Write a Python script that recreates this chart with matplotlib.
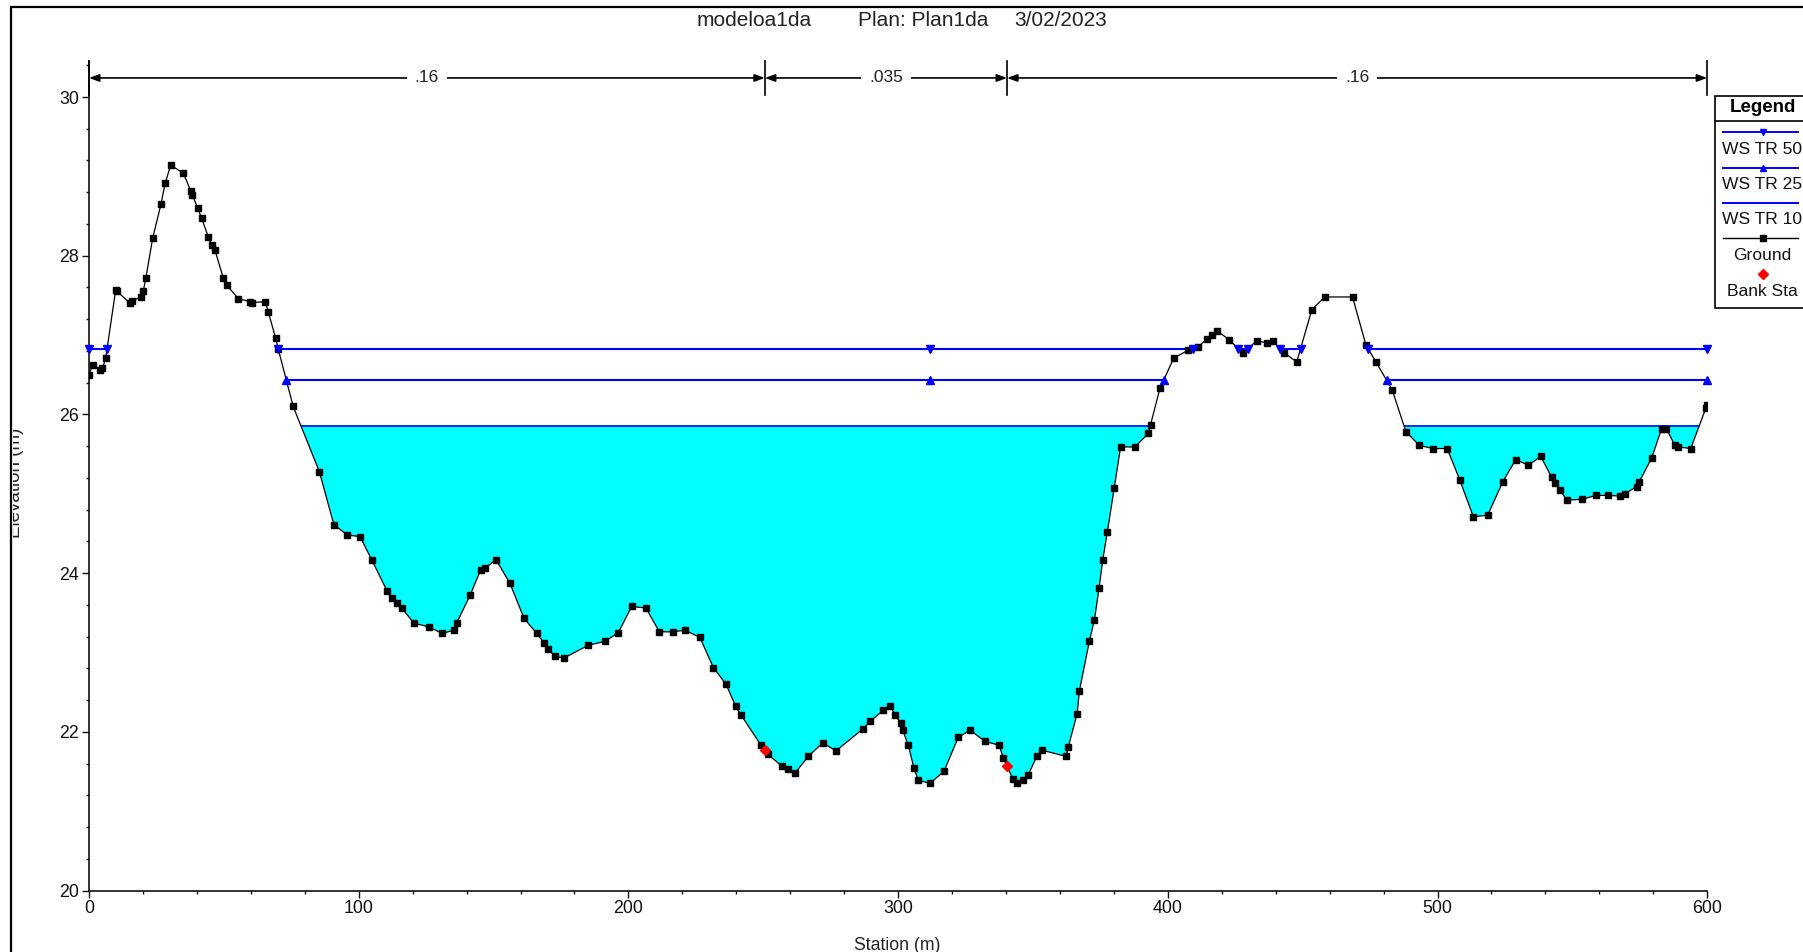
import numpy as np
import matplotlib
matplotlib.use("Agg")
import matplotlib.pyplot as plt
from matplotlib.lines import Line2D
from matplotlib.patches import Rectangle
from matplotlib.ticker import MultipleLocator
from matplotlib.transforms import Bbox

plt.rcParams['font.family'] = ['Liberation Sans', 'DejaVu Sans']

# ---- cross-section data -------------------------------------------------
station = [
    0.0, 1.3, 4.1, 5.0, 6.2, 9.9, 10.5, 15.2, 16.0, 19.3, 20.1, 21.1, 23.6,
    26.7, 28.2, 30.3, 35.0, 37.8, 38.3, 40.3, 41.8, 44.2, 45.5, 46.7, 49.8,
    51.0, 55.4, 59.7, 60.5, 65.3, 66.5, 69.2, 70.2, 75.7, 85.4, 90.8, 95.8,
    100.5, 104.8, 110.6, 112.2, 114.1, 115.9, 120.5, 126.2, 130.9, 135.3,
    136.3, 141.3, 145.2, 146.8, 150.9, 156.1, 161.3, 166.0, 168.7, 170.3,
    172.8, 176.1, 185.1, 191.3, 196.3, 201.2, 206.5, 211.5, 216.4, 221.0,
    226.5, 231.5, 236.2, 239.8, 241.8, 249.2, 251.6, 256.8, 259.3, 261.8,
    266.7, 272.0, 277.0, 287.1, 289.6, 294.5, 297.0, 298.9, 301.0, 301.7,
    303.8, 305.9, 307.5, 311.8, 317.0, 322.3, 326.7, 332.2, 337.5, 339.0,
    342.5, 344.2, 346.4, 348.3, 351.4, 353.2, 362.3, 363.1, 366.4, 367.2,
    370.9, 372.8, 374.5, 375.9, 377.6, 380.1, 382.5, 387.8, 392.8, 393.6,
    397.1, 402.2, 407.6, 411.3, 414.4, 416.3, 418.4, 422.8, 427.8, 433.0,
    436.7, 438.9, 443.1, 447.8, 453.4, 458.2, 468.5, 473.5, 477.2, 483.2,
    488.3, 493.3, 498.2, 503.6, 508.3, 513.3, 518.6, 524.2, 529.0, 533.7,
    538.3, 542.3, 543.6, 545.4, 547.9, 553.7, 558.8, 563.4, 567.7, 569.5,
    573.8, 574.8, 579.4, 583.1, 584.9, 588.0, 589.3, 593.9, 599.5, 600.0,
]
elevation = [
    26.50, 26.62, 26.56, 26.58, 26.71, 27.57, 27.55, 27.40, 27.43, 27.48,
    27.55, 27.72, 28.22, 28.65, 28.91, 29.14, 29.04, 28.81, 28.77, 28.60,
    28.47, 28.24, 28.13, 28.07, 27.72, 27.63, 27.46, 27.42, 27.41, 27.42,
    27.29, 26.96, 26.82, 26.10, 25.28, 24.61, 24.48, 24.46, 24.17, 23.77,
    23.68, 23.62, 23.56, 23.37, 23.32, 23.24, 23.28, 23.37, 23.72, 24.04,
    24.06, 24.17, 23.87, 23.43, 23.24, 23.12, 23.04, 22.95, 22.93, 23.09,
    23.14, 23.25, 23.58, 23.56, 23.26, 23.26, 23.28, 23.19, 22.81, 22.60,
    22.32, 22.21, 21.83, 21.72, 21.57, 21.53, 21.48, 21.69, 21.86, 21.76,
    22.04, 22.13, 22.27, 22.33, 22.21, 22.11, 22.02, 21.83, 21.54, 21.39,
    21.35, 21.50, 21.93, 22.02, 21.88, 21.83, 21.67, 21.41, 21.35, 21.39,
    21.46, 21.69, 21.77, 21.69, 21.81, 22.23, 22.51, 23.14, 23.41, 23.81,
    24.17, 24.52, 25.07, 25.59, 25.59, 25.76, 25.87, 26.33, 26.71, 26.81,
    26.85, 26.95, 27.00, 27.05, 26.94, 26.77, 26.93, 26.90, 26.92, 26.78,
    26.66, 27.32, 27.48, 27.48, 26.87, 26.66, 26.31, 25.78, 25.61, 25.57,
    25.57, 25.17, 24.71, 24.73, 25.15, 25.43, 25.36, 25.47, 25.21, 25.13,
    25.05, 24.92, 24.93, 24.98, 24.98, 24.97, 25.00, 25.09, 25.15, 25.45,
    25.82, 25.82, 25.61, 25.59, 25.57, 26.08, 26.12,
]

ws_names = ["WS TR 50", "WS TR 25", "WS TR 10"]
ws_elev = [26.83, 26.43, 25.86]
ws_markers = ["v", "^", None]
ws_mid_marker_sta = 312.0

bank_sta = [250.6, 340.4]

n_breaks = [0.0, 250.6, 340.4, 600.0]
n_values = [".16", ".035", ".16"]

title_parts = ["modeloa1da", "Plan: Plan1da", "3/02/2023"]

# ---- style ---------------------------------------------------------------
W, H = 1803, 952
BLUE = "#0000ff"
CYAN = "#00ffff"


def fig_xy(x_px, y_top_px):
    """Pixel position (measured from the top-left) to figure fraction."""
    return x_px / W, 1.0 - y_top_px / H


def wet_segments(x, z, ws):
    """Station ranges where the water surface lies above the ground."""
    x = np.asarray(x, float)
    z = np.asarray(z, float)
    segs = []
    start = x[0] if z[0] < ws else None
    for i in range(1, len(x)):
        a, b = z[i - 1] < ws, z[i] < ws
        if a != b:
            xc = x[i - 1] + (ws - z[i - 1]) * (x[i] - x[i - 1]) / (z[i] - z[i - 1])
            if b:
                start = xc
            else:
                segs.append((start, xc))
                start = None
    if start is not None:
        segs.append((start, x[-1]))
    return segs


fig = plt.figure(figsize=(W / 100, H / 100), dpi=100)
fig.patch.set_facecolor("white")

ax_left, ax_right = 89.0, 1707.2
ax_top, ax_bottom = 61.3, 890.5
ax = fig.add_axes([ax_left / W, 1 - ax_bottom / H,
                   (ax_right - ax_left) / W, (ax_bottom - ax_top) / H])
ax.set_xlim(0, 600)
ax.set_ylim(20, 30.45)

sta = np.asarray(station)
elev = np.asarray(elevation)

# water below the lowest profile
ws_low = ws_elev[2]
ax.fill_between(sta, elev, ws_low, where=elev < ws_low, interpolate=True,
                color=CYAN, lw=0, zorder=1)

# water surface profiles
for name, z, mk in zip(ws_names, ws_elev, ws_markers):
    segs = wet_segments(sta, elev, z)
    for x0, x1 in segs:
        lw = 1.5 if mk else 1.2
        ax.plot([x0, x1], [z, z], color=BLUE, lw=lw, zorder=2,
                solid_capstyle="butt")
        if mk:
            mx = [x0, x1]
            if x0 < ws_mid_marker_sta < x1:
                mx.insert(1, ws_mid_marker_sta)
            ax.plot(mx, [z] * len(mx), ls="none", marker=mk, ms=5.5,
                    color=BLUE, zorder=5, clip_on=False)

# ground profile
ax.plot(sta, elev, color="black", lw=0.9, marker="s", ms=4.9,
        mfc="black", mec="black", zorder=4)

# bank stations
bank_z = np.interp(bank_sta, sta, elev)
ax.plot(bank_sta, bank_z, ls="none", marker="D", ms=5.2, color="#ff0000",
        zorder=6)

# Manning's n bar
y_n = 30.24
for b in n_breaks:
    ax.plot([b, b], [30.02, 30.45], color="black", lw=1.2, zorder=3,
            clip_on=False)
for b0, b1, val in zip(n_breaks[:-1], n_breaks[1:], n_values):
    ax.annotate("", xy=(b1, y_n), xytext=(b0, y_n),
                arrowprops=dict(arrowstyle="<|-|>,head_length=0.6,head_width=0.22",
                                color="black", lw=1.2, shrinkA=0, shrinkB=0,
                                mutation_scale=10),
                zorder=3)
    ax.text((b0 + b1) / 2, y_n, val, ha="center", va="center", fontsize=12.5,
            color="#222222", zorder=4,
            bbox=dict(boxstyle="square,pad=0.45", facecolor="white",
                      edgecolor="none"))

# axes styling
for side in ("top", "right"):
    ax.spines[side].set_visible(False)
for side in ("left", "bottom"):
    ax.spines[side].set_linewidth(1.2)
    ax.spines[side].set_color("#111111")

ax.set_xticks(np.arange(0, 601, 100))
ax.set_yticks(np.arange(20, 30.01, 2))
ax.xaxis.set_minor_locator(MultipleLocator(20))
ax.yaxis.set_minor_locator(MultipleLocator(0.4))
ax.tick_params(which="major", length=5, width=1.0, pad=2, labelsize=12.8,
               colors="#111111")
ax.tick_params(which="minor", length=2.5, width=1.0, colors="#111111")
ax.set_yticklabels([f"{v:.0f}" for v in np.arange(20, 30.01, 2)])

# title pieces
for txt, cx in zip(title_parts, [754, 923, 1061]):
    x, y = fig_xy(cx, 21)
    fig.text(x, y, txt, ha="center", va="center", fontsize=15, color="#222222")

# axis titles
x, y = fig_xy(897, 945)
fig.text(x, y, "Station (m)", ha="center", va="center", fontsize=12.7,
         color="#222222")
x, y = fig_xy(20.5, 483)
ylab = fig.text(x, y, "Elevation (m)", rotation=90, rotation_mode="anchor",
                ha="center", va="baseline", fontsize=13.5, color="#222222")
ylab.set_clip_box(Bbox.from_extents(12.5, 0, W, H))
ylab.set_clip_on(True)

# outer frame
x0, y0 = fig_xy(11, 7)
fig.add_artist(Rectangle((x0, -0.1), 1.2, y0 + 0.1, transform=fig.transFigure,
                         fill=False, lw=1.6, ec="black", clip_on=False))

# legend panel
lx0, ly0 = fig_xy(1714.5, 96.5)
_, ly1 = fig_xy(0, 308.3)
fig.add_artist(Rectangle((lx0, ly1), 0.2, ly0 - ly1, transform=fig.transFigure,
                         facecolor="white", lw=1.2, ec="black"))
cx = 1762.5
x, y = fig_xy(cx, 108)
fig.text(x, y, "Legend", ha="center", va="center", fontsize=13.5,
         fontweight="bold", color="black")
sx0, sy = fig_xy(1714.5, 120.7)
fig.add_artist(Line2D([sx0, 1.1], [sy, sy], transform=fig.transFigure,
                      color="black", lw=1.2))

legend_items = [
    (ws_names[0], BLUE, ws_markers[0], "-"),
    (ws_names[1], BLUE, ws_markers[1], "-"),
    (ws_names[2], BLUE, ws_markers[2], "-"),
    ("Ground", "black", "s", "-"),
    ("Bank Sta", "#ff0000", "D", "none"),
]
line_rows = [132.0, 167.7, 202.7, 238.3, 274.0]
text_rows = [149.0, 184.3, 219.3, 256.0, 291.0]
for (lab, col, mk, ls), yl, yt in zip(legend_items, line_rows, text_rows):
    xa, ya = fig_xy(1723, yl)
    xb, _ = fig_xy(cx, yl)
    xc, _ = fig_xy(1798, yl)
    fig.add_artist(Line2D([xa, xb, xc], [ya, ya, ya], transform=fig.transFigure,
                          color=col, lw=1.4 if col == BLUE else 1.0, ls=ls,
                          marker=mk if mk else "", markevery=[1], ms=5))
    x, y = fig_xy(cx, yt)
    fig.text(x, y, lab, ha="center", va="center", fontsize=12.6, color="#111111")

fig.savefig("out.png", dpi=100, facecolor="white")
